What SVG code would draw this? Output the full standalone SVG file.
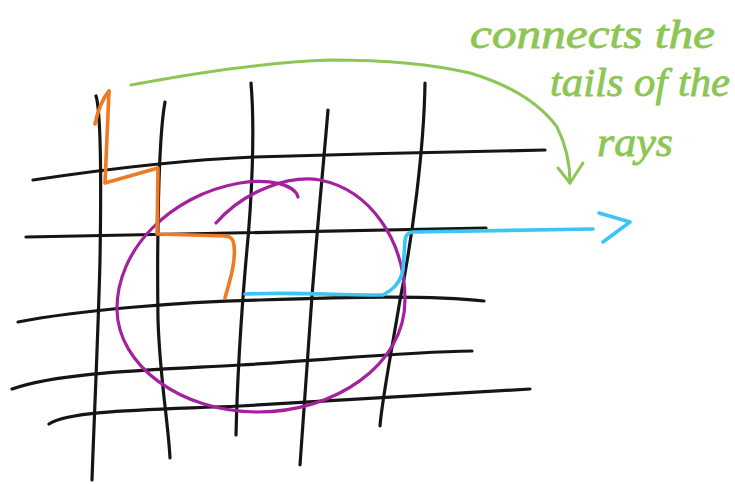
<svg xmlns="http://www.w3.org/2000/svg" width="735" height="484" viewBox="0 0 735 484">
<style>
  .grid{fill:none;stroke:#151515;stroke-width:3.2;stroke-linecap:round;stroke-linejoin:round}
  .ray{fill:none;stroke-width:3.6;stroke-linecap:round;stroke-linejoin:round}
  .orange{stroke:#f07a22}
  .blue{stroke:#3cc5f3}
  .ring{fill:none;stroke:#a3219e;stroke-width:3.2;stroke-linecap:round}
  .note{fill:none;stroke:#8dc655;stroke-width:3;stroke-linecap:round;stroke-linejoin:round}
  .label{font-family:"Liberation Serif","DejaVu Serif",serif;font-style:italic;font-weight:normal;fill:#8dc655;stroke:#8dc655;stroke-width:0.8;font-size:40px}
</style>
<rect width="735" height="484" fill="#ffffff"/>
<g id="grid">
  <path class="grid" d="M96,96 C102,115 101,200 100,260 C98,340 94,420 92,480"/>
  <path class="grid" d="M165,102 C158,140 157,250 158,320 C160,380 168,420 170,458"/>
  <path class="grid" d="M251,83 C255,130 252,200 246,260 C240,330 237,390 236,435"/>
  <path class="grid" d="M328,110 C323,170 316,240 311,310 C306,380 302,430 300,465"/>
  <path class="grid" d="M425,83 C424,150 412,240 400,300 C390,360 382,400 380,426"/>
  <path class="grid" d="M33,180 C100,170 180,160 254,157 C350,154 450,152 545,150"/>
  <path class="grid" d="M26,237 C150,236 300,233 486,228"/>
  <path class="grid" d="M18,322 C80,310 180,302 260,300 C350,297 430,295 484,301"/>
  <path class="grid" d="M12,389 C60,372 150,370 240,365 C330,360 400,352 472,351"/>
  <path class="grid" d="M49,424 C70,410 150,410 240,406 C350,400 450,394 530,389"/>
</g>
<g id="circle">
  <path class="ring" d="M216,223 C245,190 290,175 320,180 C370,190 405,240 405,300 C405,365 335,412 258,412 C180,412 118,365 117,310 C116,250 170,195 240,183 C270,178 295,185 298,197"/>
</g>
<g id="connectors">
  <g id="orange-ray">
    <path class="ray orange" d="M225,298 C230,280 236,262 234,245 Q233,236 225,236 L157,234 L158,168 L105,183 L109,91"/>
    <path class="ray orange" d="M95,124 C98,110 103,98 109,91"/>
  </g>
  <g id="blue-ray">
    <path class="ray blue" d="M245,294 C290,292 340,295 383,295 C392,290 400,284 403,270 L405,240 Q406,232 414,232 C480,231 540,230 593,229"/>
    <path class="ray blue" d="M599,213 L630,222 L603,242"/>
  </g>
  <g id="annotation-arrow">
    <path class="note" d="M131,85 C200,72 270,62 330,60 C400,60 440,66 470,73 C510,85 540,104 557,127 C566,145 570,165 570,183"/>
    <path class="note" d="M558,168 L570,183 L583,163"/>
  </g>
</g>
<g id="annotation">
  <text class="label" x="470" y="48" textLength="245" lengthAdjust="spacingAndGlyphs">connects the</text>
  <text class="label" x="550" y="96" textLength="180" lengthAdjust="spacingAndGlyphs">tails of the</text>
  <text class="label" x="597" y="156" textLength="76" lengthAdjust="spacingAndGlyphs">rays</text>
</g>
</svg>
